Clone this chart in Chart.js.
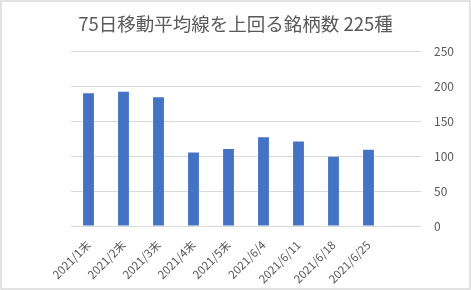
<!DOCTYPE html>
<html>
<head>
<meta charset="utf-8">
<script src="https://cdn.jsdelivr.net/npm/chart.js@4"></script>
<style>
  html, body { margin: 0; padding: 0; background: #fff; }
  canvas { display: block; }
</style>
</head>
<body>
<canvas id="chart" width="471" height="290"></canvas>
<script>
// data
const categories = ["2021/1末", "2021/2末", "2021/3末", "2021/4末", "2021/5末", "2021/6/4", "2021/6/11", "2021/6/18", "2021/6/25", ""];
const counts = [190, 192, 184, 105, 110, 127, 121, 99, 109, null];
const yTicks = [0, 50, 100, 150, 200, 250];

const titleText = "75日移動平均線を上回る銘柄数 225種";
const fontFamily = '"Noto Sans CJK JP", "Noto Sans", sans-serif';
const textColor = "#595959";
const gridColor = "#d9d9d9";

// white background + thin frame like the Excel chart area
const framePlugin = {
  id: "frame",
  beforeDraw(chart) {
    const { ctx, width, height } = chart;
    ctx.save();
    ctx.fillStyle = "#fff";
    ctx.fillRect(0, 0, width, height);
    ctx.restore();
  },
  afterDraw(chart) {
    const { ctx, width, height } = chart;
    ctx.save();
    ctx.strokeStyle = "#d9d9d9";
    ctx.lineWidth = 1.5;
    ctx.strokeRect(1, 1, width - 2, height - 2);
    ctx.restore();
  },
};

new Chart(document.getElementById("chart"), {
  type: "bar",
  data: {
    labels: categories,
    datasets: [
      {
        label: "銘柄数",
        data: counts,
        xAxisID: "x",
        yAxisID: "y",
        backgroundColor: "#4472C4",
        borderWidth: 0,
        barPercentage: 0.31,
        categoryPercentage: 1,
      },
    ],
  },
  options: {
    responsive: false,
    animation: false,
    devicePixelRatio: 1,
    layout: { padding: 0 },
    plugins: {
      legend: { display: false },
      tooltip: { enabled: false },
      title: {
        display: true,
        text: titleText,
        color: textColor,
        font: { family: fontFamily, size: 18.5, weight: "normal" },
        padding: { top: 13, bottom: 16 },
      },
    },
    scales: {
      x: {
        grid: { display: false },
        border: { display: false },
        ticks: {
          color: textColor,
          font: { family: fontFamily, size: 11.5 },
          minRotation: 45,
          maxRotation: 45,
          autoSkip: false,
          padding: 4,
        },
        afterFit: (axis) => { axis.height = 64; },
      },
      y: {
        position: "right",
        min: yTicks[0],
        max: yTicks[yTicks.length - 1],
        afterBuildTicks: (axis) => {
          axis.ticks = yTicks.map((v) => ({ value: v }));
        },
        grid: { color: gridColor, lineWidth: 1, drawTicks: false },
        border: { display: false },
        ticks: {
          color: textColor,
          font: { family: fontFamily, size: 12 },
          padding: 13,
        },
        afterFit: (axis) => { axis.width = 50; },
      },
      // empty left axis only reserves the left margin, so the title stays centred
      spacer: {
        type: "linear",
        position: "left",
        grid: { display: false },
        border: { display: false },
        ticks: { display: false },
        afterFit: (axis) => { axis.width = 71; },
      },
    },
  },
  plugins: [framePlugin],
});
</script>
</body>
</html>
